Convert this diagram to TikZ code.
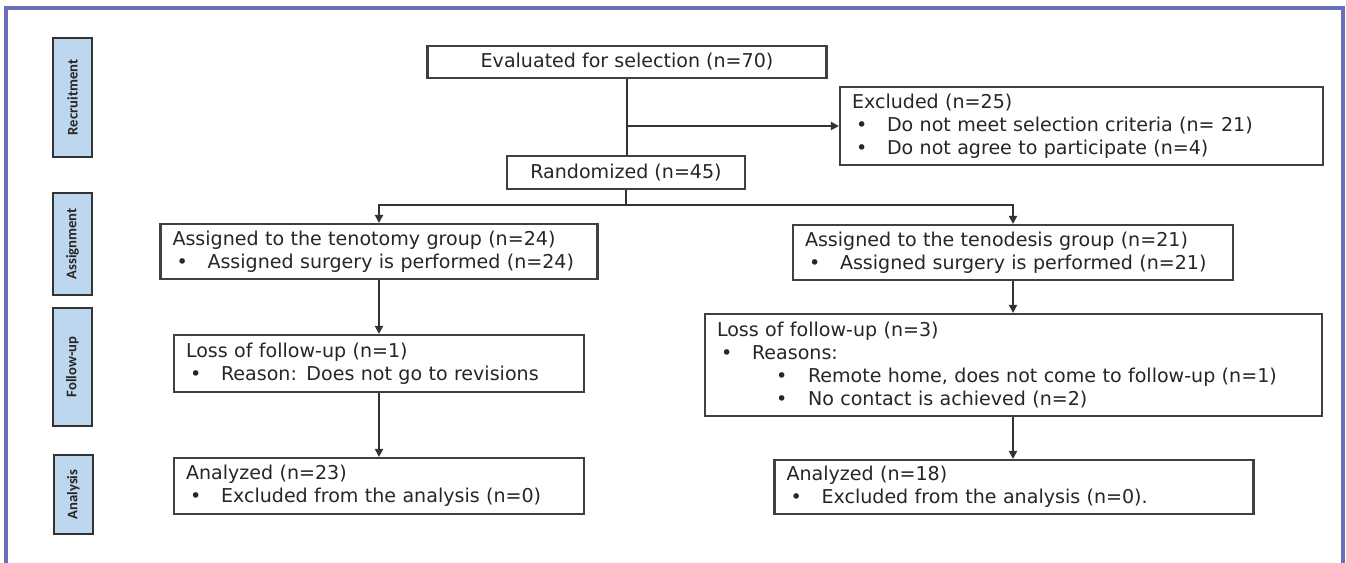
\documentclass[tikz,border=0pt]{standalone}
\usepackage{fontspec}
\setmainfont{DejaVu Sans}
\newfontfamily\stagefont{Carlito}
\usetikzlibrary{arrows.meta, positioning}
\definecolor{framecol}{RGB}{104,112,186}
\definecolor{stagefill}{RGB}{189,215,238}
\newcommand{\bul}[1]{\hspace*{3pt}\makebox[23.25pt][l]{\textbullet}#1}
\newcommand{\subbul}[1]{\hspace*{44.25pt}\makebox[24pt][l]{\textbullet}#1}
\tikzset{
    flowbox/.style={rectangle, draw=black!75, line width=1.6pt, fill=white, align=left, inner xsep=9pt, inner ysep=2pt, text=black!85, font=\fontsize{14.3pt}{17.4pt}\selectfont},
    titlebox/.style={flowbox, align=center},
    stage/.style={rectangle, draw=black!80, line width=1.6pt, fill=stagefill, rotate=90, minimum height=29.25pt, inner sep=1pt, text=black!85, font=\stagefont\bfseries\fontsize{11pt}{12pt}\selectfont},
    link/.style={draw=black!80, line width=1.6pt},
    arrow/.style={link, -{Triangle[length=6pt, width=6pt]}},
}
\begin{document}
\begin{tikzpicture}[x=0.75pt, y=-0.75pt]
    \useasboundingbox (0,0) rectangle (1346,562);
    % Frame
    \draw[framecol, line width=2.3pt] (6,8) rectangle (1343,590);

    % Stages
    \node[stage, minimum width=89.25pt] (recruit) at (72.5,97.5) {Recruitment};
    \node[stage, minimum width=76.5pt] (assign) at (72.5,244) {Assignment};
    \node[stage, minimum width=88.5pt] (follow) at (72.5,367) {Follow-up};
    \node[stage, minimum width=59.25pt] (analysis) at (73.5,494.5) {Analysis};

    % Recruitment
    \node[titlebox, minimum width=299.25pt, minimum height=24pt] (eval) at (627,62) {Evaluated for selection (n=70)};
    \node[titlebox, minimum width=178.5pt, minimum height=24.75pt] (rand) at (626,172.5) {Randomized (n=45)};
    \node[flowbox, text width=344.25pt, minimum height=58.5pt] (excl) at (1081.5,126) {Excluded (n=25)\\
        \bul{Do not meet selection criteria (n= 21)}\\
        \bul{Do not agree to participate (n=4)}};

    % Assignment
    \node[flowbox, text width=309.75pt, minimum height=41.25pt] (tenot) at (379,251.5) {Assigned to the tenotomy group (n=24)\\
        \bul{Assigned surgery is performed (n=24)}};
    \node[flowbox, text width=312pt, minimum height=41.25pt] (tenod) at (1013,252.5) {Assigned to the tenodesis group (n=21)\\
        \bul{Assigned surgery is performed (n=21)}};

    % Follow-up
    \node[flowbox, text width=289.5pt, minimum height=42.75pt] (lossl) at (379,363.5) {Loss of follow-up (n=1)\\
        \bul{Reason: Does not go to revisions}};
    \node[flowbox, text width=444.75pt, minimum height=76.5pt] (lossr) at (1013.5,365) {Loss of follow-up (n=3)\\
        \bul{Reasons:}\\
        \subbul{Remote home, does not come to follow-up (n=1)}\\
        \subbul{No contact is achieved (n=2)}};

    % Analysis
    \node[flowbox, text width=289.5pt, minimum height=42pt] (anal) at (379,486) {Analyzed (n=23)\\
        \bul{Excluded from the analysis (n=0)}};
    \node[flowbox, text width=341.25pt, minimum height=40.5pt] (anar) at (1014,487) {Analyzed (n=18)\\
        \bul{Excluded from the analysis (n=0).}};

    % Connectors
    \draw[link] (eval.south) -- (eval.south |- rand.north);
    \coordinate (xsplit) at (eval.south |- excl.west);
    \draw[arrow] (xsplit) -- (excl.west);
    \draw[link] (rand.south) -- ++(0,15) coordinate (rsplit);
    \draw[arrow] (rsplit) -| (tenot.north);
    \draw[arrow] (rsplit) -| (tenod.north);
    \draw[arrow] (tenot.south) -- (lossl.north);
    \draw[arrow] (lossl.south) -- (anal.north);
    \draw[arrow] (tenod.south) -- (tenod.south |- lossr.north);
    \draw[arrow] (tenod.south |- lossr.south) -- (tenod.south |- anar.north);
\end{tikzpicture}
\end{document}
